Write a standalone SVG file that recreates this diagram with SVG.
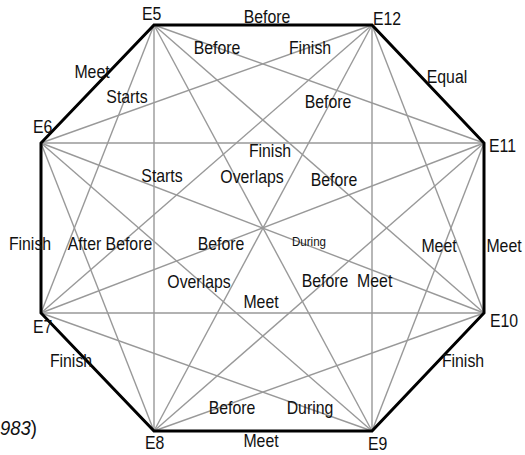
<svg xmlns="http://www.w3.org/2000/svg" width="525" height="455" viewBox="0 0 525 455">
<style>
text{font-family:"Liberation Sans",Arial,sans-serif;font-size:18px;fill:#111}
.m{text-anchor:middle}
.d{stroke:#999;stroke-width:1.4;fill:none}
.s{stroke:#000;stroke-width:3;fill:none;stroke-linejoin:miter}
.sm{font-size:13px}
.big{font-size:21px}
.pre{white-space:pre}
</style>
<rect width="525" height="455" fill="#fff"/>
<g id="connectors">
<g class="d">
<line x1="154" y1="25" x2="484" y2="143"/>
<line x1="154" y1="25" x2="484" y2="313"/>
<line x1="154" y1="25" x2="372" y2="431"/>
<line x1="154" y1="25" x2="154" y2="431"/>
<line x1="154" y1="25" x2="41" y2="313"/>
<line x1="372" y1="25" x2="484" y2="313"/>
<line x1="372" y1="25" x2="372" y2="431"/>
<line x1="372" y1="25" x2="154" y2="431"/>
<line x1="372" y1="25" x2="41" y2="313"/>
<line x1="372" y1="25" x2="41" y2="143"/>
<line x1="484" y1="143" x2="372" y2="431"/>
<line x1="484" y1="143" x2="154" y2="431"/>
<line x1="484" y1="143" x2="41" y2="313"/>
<line x1="484" y1="143" x2="41" y2="143"/>
<line x1="484" y1="313" x2="154" y2="431"/>
<line x1="484" y1="313" x2="41" y2="313"/>
<line x1="484" y1="313" x2="41" y2="143"/>
<line x1="372" y1="431" x2="41" y2="313"/>
<line x1="372" y1="431" x2="41" y2="143"/>
<line x1="154" y1="431" x2="41" y2="143"/>
</g>
<polygon class="s" points="154,25 372,25 484,143 484,313 372,431 154,431 41,313 41,143"/>
<g id="labels">
<text class="m" transform="translate(267,23) scale(0.88,1)">Before</text>
<text class="m" transform="translate(217,54) scale(0.88,1)">Before</text>
<text class="m" transform="translate(310,54) scale(0.88,1)">Finish</text>
<text class="m" transform="translate(92,78) scale(0.88,1)">Meet</text>
<text class="m" transform="translate(127,103) scale(0.88,1)">Starts</text>
<text class="m" transform="translate(447,83) scale(0.88,1)">Equal</text>
<text class="m" transform="translate(328,108) scale(0.88,1)">Before</text>
<text class="m" transform="translate(270,157) scale(0.88,1)">Finish</text>
<text class="m" transform="translate(252,183) scale(0.88,1)">Overlaps</text>
<text class="m" transform="translate(334,186) scale(0.88,1)">Before</text>
<text class="m" transform="translate(162,182) scale(0.88,1)">Starts</text>
<text class="m" transform="translate(30,250) scale(0.88,1)">Finish</text>
<text class="m" transform="translate(110,250) scale(0.88,1)">After Before</text>
<text class="m" transform="translate(221,250) scale(0.88,1)">Before</text>
<text class="m sm" transform="translate(309,246) scale(0.89,1)">During</text>
<text class="m" transform="translate(439,252) scale(0.88,1)">Meet</text>
<text class="m" transform="translate(504,252) scale(0.88,1)">Meet</text>
<text class="m" transform="translate(199,288) scale(0.88,1)">Overlaps</text>
<text class="m pre" transform="translate(347,287) scale(0.88,1)">Before  Meet</text>
<text class="m" transform="translate(261,308) scale(0.88,1)">Meet</text>
<text class="m" transform="translate(71,367) scale(0.88,1)">Finish</text>
<text class="m" transform="translate(463,367) scale(0.88,1)">Finish</text>
<text class="m" transform="translate(232,414) scale(0.88,1)">Before</text>
<text class="m" transform="translate(310,414) scale(0.88,1)">During</text>
<text class="m" transform="translate(261,447) scale(0.88,1)">Meet</text>
</g>
</g>
<g id="E5"><text transform="translate(142,20) scale(0.88,1)">E5</text></g>
<g id="E12"><text transform="translate(373,25) scale(0.88,1)">E12</text></g>
<g id="E11"><text transform="translate(489,152) scale(0.88,1)">E11</text></g>
<g id="E10"><text transform="translate(490,327) scale(0.88,1)">E10</text></g>
<g id="E9"><text transform="translate(368,450) scale(0.88,1)">E9</text></g>
<g id="E8"><text transform="translate(145,449) scale(0.88,1)">E8</text></g>
<g id="E7"><text transform="translate(33,333) scale(0.88,1)">E7</text></g>
<g id="E6"><text transform="translate(33,133) scale(0.88,1)">E6</text></g>
<text class="big" transform="translate(0,435) scale(0.88,1)"><tspan font-style="italic">983</tspan>)</text>
</svg>
